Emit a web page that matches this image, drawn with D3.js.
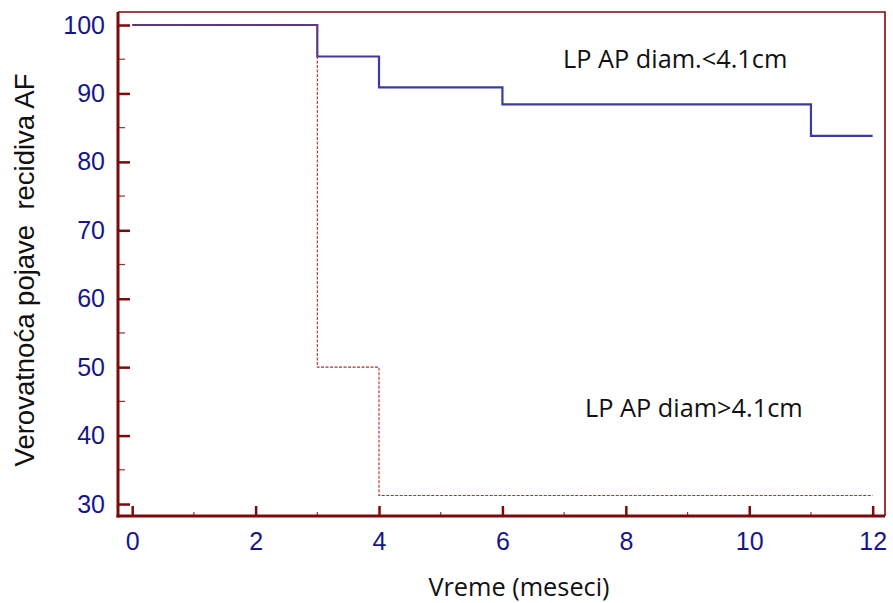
<!DOCTYPE html>
<html>
<head>
<meta charset="utf-8">
<script src="https://cdn.jsdelivr.net/npm/d3@7"></script>
<style>
  body { margin: 0; background: #fff; }
  svg { display: block; }
  .tick text { font-family: "Liberation Sans", Arial, sans-serif; }
  .ttl { font-family: "Open Sans", Lato, sans-serif; fill: #111; }
  .ytl { font-family: "Liberation Sans", Arial, sans-serif; fill: #111; }
</style>
</head>
<body>
<svg id="chart" width="893" height="603"></svg>
<script>
// data: Kaplan-Meier steps (months, %)
const smallTimes = [0, 3, 4, 6, 11, 12];
const smallSurv = [100, 95.4, 90.9, 88.4, 83.8, 83.8];
const largeTimes = [0, 3, 4, 12];
const largeSurv = [100, 50, 31.25, 31.25];
const xTicks = [0, 2, 4, 6, 8, 10, 12];
const yTicks = [30, 40, 50, 60, 70, 80, 90, 100];
const labelSmall = 'LP AP diam.<4.1cm';
const labelLarge = 'LP AP diam>4.1cm';

const axisColor = '#7b0a0a';
const tickText = '#16168a';

const svg = d3.select('#chart');
const box = {left: 118, right: 885, top: 12, bottom: 516};

const x = d3.scaleLinear().domain([-0.23, 12.2]).range([box.left, box.right]);
const y = d3.scaleLinear().domain([28.25, 101.9]).range([box.bottom, box.top]);

// frame (top/right thin)
svg.append('path')
    .attr('d', `M${box.left},${box.top}H${box.right}V${box.bottom}`)
    .attr('fill', 'none').attr('stroke', axisColor).attr('stroke-width', 1.6);

// minor ticks
const gMinor = svg.append('g');
gMinor.selectAll('line.ym').data(d3.range(35, 100, 10)).join('line')
    .attr('x1', box.left).attr('x2', box.left + 7)
    .attr('y1', d => y(d)).attr('y2', d => y(d))
    .attr('stroke', '#9a3030').attr('stroke-width', 1.2);
gMinor.selectAll('line.xm').data(d3.range(1, 12, 2)).join('line')
    .attr('x1', d => x(d)).attr('x2', d => x(d))
    .attr('y1', box.bottom).attr('y2', box.bottom - 4)
    .attr('stroke', '#9a3030').attr('stroke-width', 1.2);

// axes
const yAxis = svg.append('g').attr('transform', `translate(${box.left},0)`)
    .call(d3.axisLeft(y).tickValues(yTicks).tickSizeInner(-12).tickSizeOuter(0).tickPadding(13));
const xAxis = svg.append('g').attr('transform', `translate(0,${box.bottom})`)
    .call(d3.axisBottom(x).tickValues(xTicks).tickSizeInner(-10).tickSizeOuter(0).tickPadding(16));

[yAxis, xAxis].forEach(g => {
    g.select('.domain').attr('stroke', axisColor).attr('stroke-width', 3);
    g.selectAll('.tick line').attr('stroke', axisColor).attr('stroke-width', 2.5);
    g.selectAll('.tick text').attr('fill', tickText).style('font-size', '25px');
});
yAxis.select('.domain').attr('d', `M0,${box.top}V${box.bottom + 1.5}`);
xAxis.select('.domain').attr('d', `M${box.left - 1.5},0H${box.right}`);

// curves
const line = d3.line().curve(d3.curveStepAfter).x(d => x(d[0])).y(d => y(d[1]));

svg.append('path')
    .datum(smallTimes.map((t, i) => [t, smallSurv[i]]))
    .attr('d', line)
    .attr('fill', 'none').attr('stroke', '#3b3ba3').attr('stroke-width', 2.2);

svg.append('path')
    .datum(largeTimes.map((t, i) => [t, largeSurv[i]]))
    .attr('d', line)
    .attr('fill', 'none').attr('stroke', '#a8302e').attr('stroke-width', 1.1)
    .attr('stroke-dasharray', '3,1.5');

// labels
svg.append('text').attr('class', 'ttl').attr('x', 563).attr('y', 68)
    .style('font-size', '25.3px').text(labelSmall);
svg.append('text').attr('class', 'ttl').attr('x', 585).attr('y', 417)
    .style('font-size', '25.3px').text(labelLarge);

svg.append('text').attr('class', 'ttl')
    .attr('x', 519).attr('y', 596).attr('text-anchor', 'middle')
    .style('font-size', '25.3px').text('Vreme (meseci)');
svg.append('text').attr('class', 'ytl')
    .attr('transform', 'translate(34,270) rotate(-90)').attr('text-anchor', 'middle')
    .style('font-size', '27.5px').style('white-space', 'pre')
    .text('Verovatnoća pojave  recidiva AF');
</script>
</body>
</html>
